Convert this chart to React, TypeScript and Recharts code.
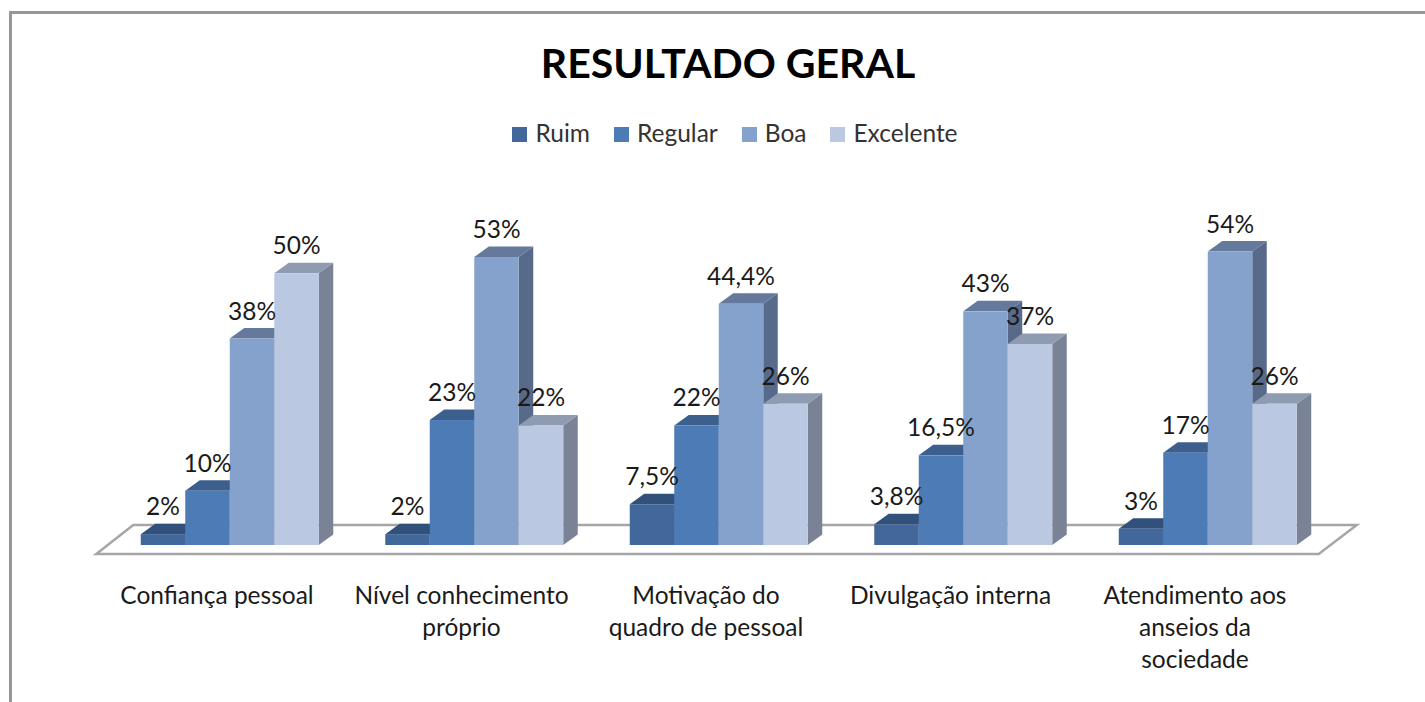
import { BarChart, Bar, XAxis, YAxis, Legend, LabelList, ReferenceArea } from "recharts";

const categories = [
  "Confiança pessoal",
  "Nível conhecimento próprio",
  "Motivação do quadro de pessoal",
  "Divulgação interna",
  "Atendimento aos anseios da sociedade",
];
const tickLines: Record<string, string[]> = {
  "Confiança pessoal": ["Confiança pessoal"],
  "Nível conhecimento próprio": ["Nível conhecimento", "próprio"],
  "Motivação do quadro de pessoal": ["Motivação do", "quadro de pessoal"],
  "Divulgação interna": ["Divulgação interna"],
  "Atendimento aos anseios da sociedade": ["Atendimento aos", "anseios da", "sociedade"],
};

const ruim = [2, 2, 7.5, 3.8, 3];
const regular = [10, 23, 22, 16.5, 17];
const boa = [38, 53, 44.4, 43, 54];
const excelente = [50, 22, 26, 37, 26];

const rows = categories.map((name, i) => ({
  name,
  Ruim: ruim[i],
  Regular: regular[i],
  Boa: boa[i],
  Excelente: excelente[i],
}));

const FONT = "Lato, sans-serif";
const DEPTH_X = 14.5;
const DEPTH_Y = 10.5;

const SERIES = [
  { key: "Ruim", front: "#42689b", top: "#31507a", side: "#2f4c74" },
  { key: "Regular", front: "#4d7bb5", top: "#3c5f8d", side: "#3a5a85" },
  { key: "Boa", front: "#85a2cc", top: "#64799b", side: "#576a8a" },
  { key: "Excelente", front: "#bac8e1", top: "#8f9bb0", side: "#7a8296" },
];

// front face plus the fake depth faces, all from the bar rect recharts hands over
function bar3D(top: string, side: string) {
  return (props: any) => {
    const { x, y, width, height, fill } = props;
    const r = x + width;
    const b = y + height;
    return (
      <g>
        <polygon
          points={`${r},${y} ${r + DEPTH_X},${y - DEPTH_Y} ${r + DEPTH_X},${b - DEPTH_Y} ${r},${b}`}
          fill={side}
        />
        <polygon
          points={`${x},${y} ${x + DEPTH_X},${y - DEPTH_Y} ${r + DEPTH_X},${y - DEPTH_Y} ${r},${y}`}
          fill={top}
        />
        <rect x={x} y={y} width={width} height={height} fill={fill} />
      </g>
    );
  };
}

function Floor(props: any) {
  const { x, y, width, height } = props;
  const r = x + width;
  const base = y + height;
  return (
    <polygon
      points={`${x - 11.5},${base + 9} ${x + 25.5},${base - 20} ${r + 26.5},${base - 20} ${r - 11.5},${base + 9}`}
      fill="#ffffff"
      stroke="#a6a6a6"
      strokeWidth={2.5}
    />
  );
}

function CategoryTick({ x, y, payload }: any) {
  const lines = tickLines[payload.value] || [payload.value];
  return (
    <text x={x - 13} y={y} textAnchor="middle" fontFamily={FONT} fontSize={24.5} fill="#1a1a1a">
      {lines.map((line, i) => (
        <tspan key={line} x={x - 13} dy={i === 0 ? 51 : 32}>
          {line}
        </tspan>
      ))}
    </text>
  );
}

const formatValue = (v: any) => `${String(v).replace(".", ",")}%`;

export default function App() {
  return (
    <div style={{ position: "absolute", left: 0, top: 0, width: 1425, height: 702, overflow: "hidden", background: "#fff" }}>
      <div
        style={{
          position: "absolute",
          left: 9,
          top: 11,
          right: -5,
          bottom: -5,
          borderTop: "3px solid #969696",
          borderLeft: "3px solid #969696",
        }}
      />
      <div
        style={{
          position: "absolute",
          left: 0,
          top: 34,
          width: 1456,
          textAlign: "center",
          fontFamily: FONT,
          fontWeight: 700,
          fontSize: 41,
          lineHeight: "58px",
          color: "#000",
        }}
      >
        RESULTADO GERAL
      </div>
      <div style={{ position: "absolute", left: 0, top: 0 }}>
        <BarChart
          width={1425}
          height={702}
          data={rows}
          margin={{ top: 190, right: 94.75, left: 107.75, bottom: 0 }}
          barSize={44.5}
          barGap={0}
        >
          <XAxis dataKey="name" axisLine={false} tickLine={false} height={157} interval={0} tick={CategoryTick} />
          <YAxis hide domain={[0, 60]} />
          <ReferenceArea y1={0} y2={1} shape={Floor} />
          <Legend
            verticalAlign="top"
            iconType="square"
            iconSize={15}
            itemSorter={null}
            wrapperStyle={{ position: "absolute", top: 114, left: 507, width: 480, textAlign: "left" }}
            formatter={(value: string) => (
              <span style={{ position: "relative", top: 4, fontFamily: FONT, fontSize: 24.5, color: "#333", marginLeft: 4, marginRight: 14 }}>{value}</span>
            )}
          />
          {SERIES.map((s) => (
            <Bar key={s.key} dataKey={s.key} fill={s.front} shape={bar3D(s.top, s.side)} isAnimationActive={false}>
              <LabelList
                dataKey={s.key}
                position="top"
                offset={19}
                formatter={formatValue}
                style={{ fontFamily: FONT, fontSize: 24.5, fill: "#1a1a1a" }}
              />
            </Bar>
          ))}
        </BarChart>
      </div>
    </div>
  );
}
